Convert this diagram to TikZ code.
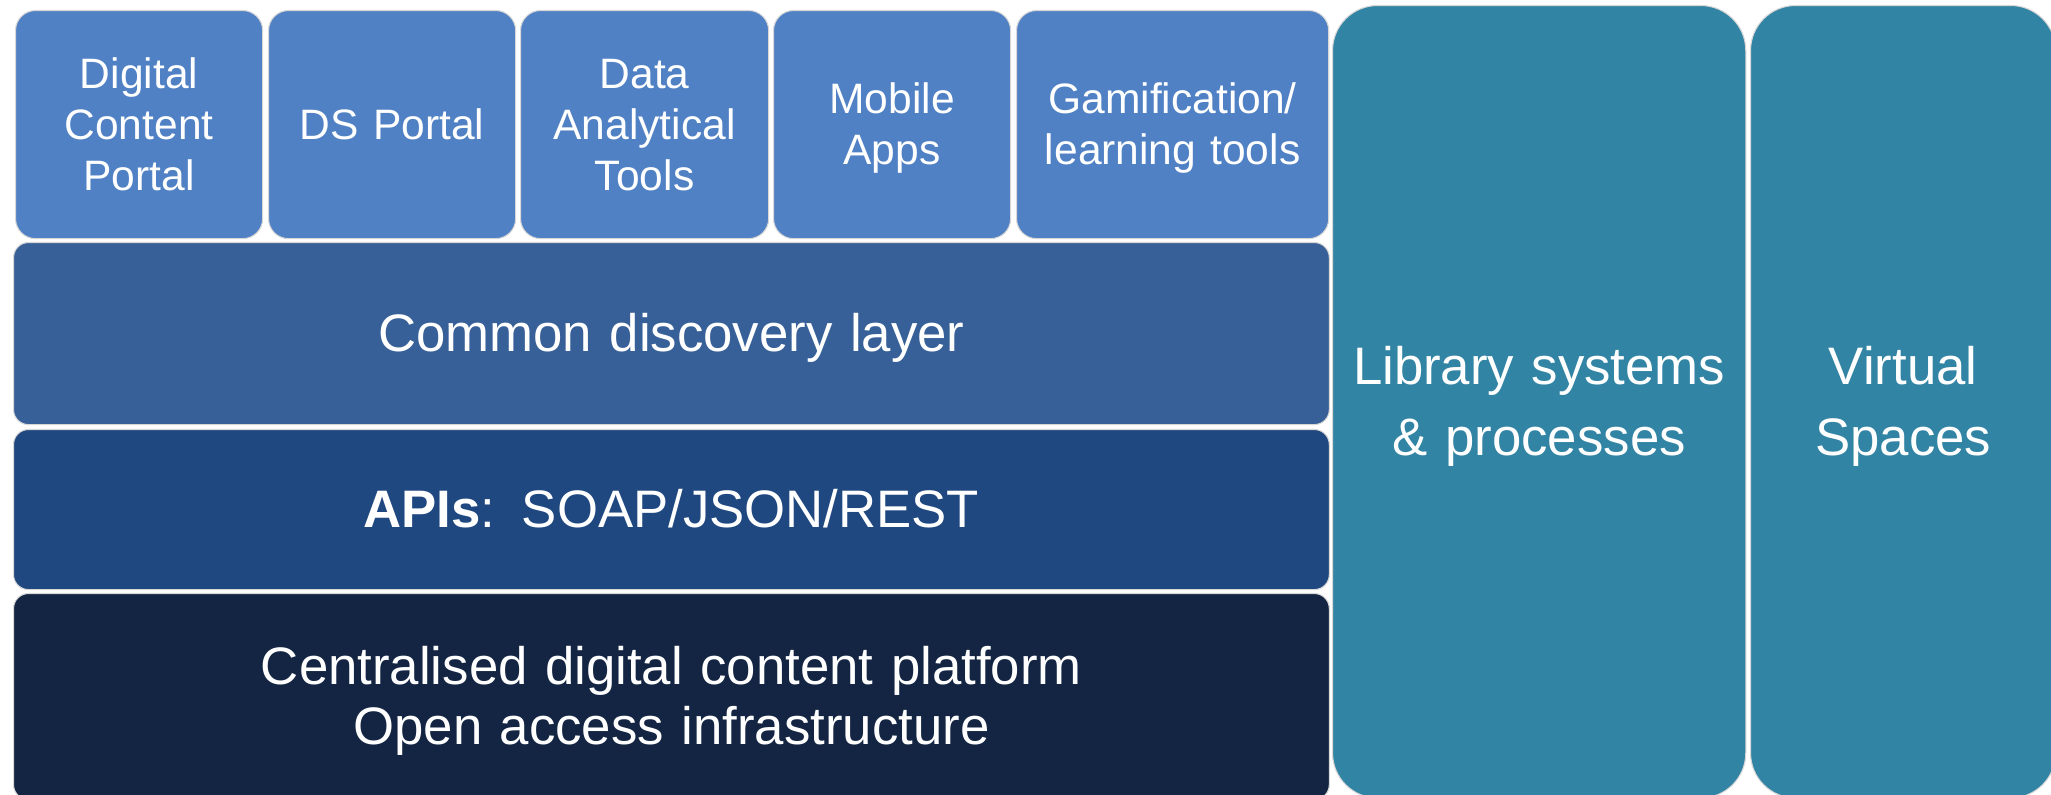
\documentclass[tikz,border=0pt]{standalone}
\usepackage{fontspec}
\setmainfont{Liberation Sans}
\usepackage{tikz}

\definecolor{toolblue}{RGB}{80,129,196}
\definecolor{discblue}{RGB}{56,96,152}
\definecolor{apiblue}{RGB}{31,71,128}
\definecolor{platnavy}{RGB}{19,37,66}
\definecolor{sideteal}{RGB}{50,132,164}
\definecolor{edgegray}{RGB}{215,215,215}

% struts giving the text the ascent and descent of the font
\newcommand{\topstrut}{\rule{0pt}{0.905em}}
\newcommand{\bottomstrut}{\rule[-0.212em]{0pt}{0pt}}

\begin{document}
\begin{tikzpicture}[x=0.01cm, y=-0.01cm,
    boxbase/.style={rectangle, anchor=north west, inner sep=0pt, align=center,
        text=white, draw=edgegray, line width=0.3pt,
        execute at begin node=\topstrut, execute at end node=\bottomstrut},
    toolbox/.style={boxbase, fill=toolblue, rounded corners=0.2cm,
        minimum height=2.28cm, font=\fontsize{12.1}{14.5}\selectfont},
    layerbar/.style={boxbase, rounded corners=0.15cm, minimum width=13.15cm,
        text width=12cm, font=\fontsize{15}{17.1}\selectfont},
    sidebox/.style={boxbase, fill=sideteal, rounded corners=0.45cm,
        minimum height=7.92cm, font=\fontsize{15}{20}\selectfont}]

    % Frame of the picture
    \useasboundingbox (0,0) rectangle (2051,795);
    \clip (0,0) rectangle (2051,795);

    % Tools on top
    \node[toolbox, minimum width=2.47cm, text width=2.3cm] (dcportal) at (15,10) {Digital\\Content\\Portal};
    \node[toolbox, minimum width=2.47cm, text width=2.3cm] (dsportal) at (268,10) {DS Portal};
    \node[toolbox, minimum width=2.48cm, text width=2.3cm] (analytics) at (520,10) {Data\\Analytical\\Tools};
    \node[toolbox, minimum width=2.37cm, text width=2.2cm] (mobile) at (773,10) {Mobile\\Apps};
    \node[toolbox, minimum width=3.12cm, text width=2.95cm] (gamification) at (1016,10) {Gamification/\\learning tools};

    % Layers below the tools
    \node[layerbar, fill=discblue, minimum height=1.82cm] (discovery) at (13,242) {Common discovery layer};
    \node[layerbar, fill=apiblue, minimum height=1.60cm] (apis) at (13,429) {\textbf{APIs}: SOAP/JSON/REST};
    \node[layerbar, fill=platnavy, minimum height=2.06cm] (platform) at (13,593)
        {Centralised digital content platform\\Open access infrastructure};

    % Columns on the right
    \node[sidebox, minimum width=4.13cm, text width=3.95cm] (library) at (1332,5) {Library systems\\\& processes};
    \node[sidebox, minimum width=3.05cm, text width=2.9cm] (virtual) at (1750,5) {Virtual\\Spaces};
\end{tikzpicture}
\end{document}
